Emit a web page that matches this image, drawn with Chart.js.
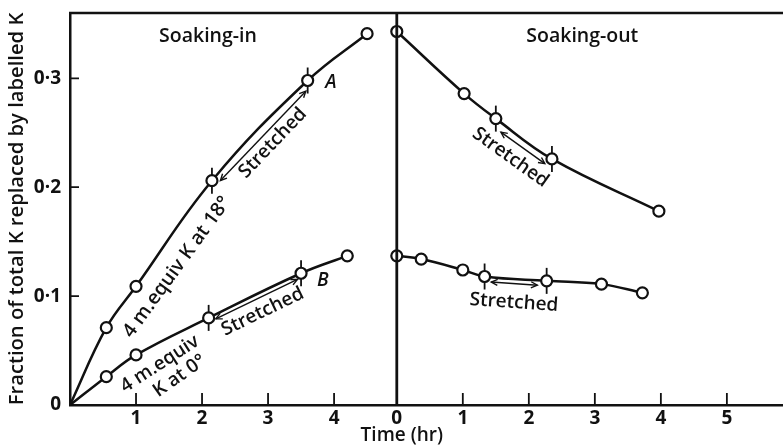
<!DOCTYPE html>
<html>
<head>
<meta charset="utf-8">
<script src="https://cdn.jsdelivr.net/npm/chart.js@4.4.1/dist/chart.umd.min.js"></script>
<style>
  html, body { margin: 0; padding: 0; background: #fff; }
</style>
</head>
<body>
<canvas id="chart" width="783" height="445"></canvas>
<script>
// soaking-in, time (hr) from start of soaking
var inTimeA = [0, 0.55, 1.0, 2.15, 3.6, 4.5];
var inFracA = [0, 0.071, 0.109, 0.206, 0.298, 0.341];
var inTimeB = [0, 0.55, 1.0, 2.1, 3.5, 4.2];
var inFracB = [0, 0.026, 0.046, 0.080, 0.121, 0.137];

// soaking-out, time (hr) from start of soaking-out
var outTimeA = [0, 1.02, 1.5, 2.35, 3.97];
var outFracA = [0.343, 0.286, 0.263, 0.226, 0.178];
var outTimeB = [0, 0.37, 1.0, 1.33, 2.27, 3.1, 3.72];
var outFracB = [0.137, 0.134, 0.124, 0.118, 0.114, 0.111, 0.103];

// which points mark start / end of stretching
var stretchInA = [3, 4];
var stretchInB = [3, 4];
var stretchOutA = [2, 3];
var stretchOutB = [3, 4];

var yTicks = [0, 0.1, 0.2, 0.3];
var inTicks = [1, 2, 3, 4];
var outTicks = [0, 1, 2, 3, 4, 5];

// where soaking-out zero sits on the shared time axis
var OUT_OFFSET = 4.95;

var INK = '#111';
var FONT = '"Open Sans", Lato, sans-serif';

function pts(times, fracs, shift) {
    return times.map(function (t, i) { return { x: t + shift, y: fracs[i] }; });
}

var seriesInA = pts(inTimeA, inFracA, 0);
var seriesInB = pts(inTimeB, inFracB, 0);
var seriesOutA = pts(outTimeA, outFracA, OUT_OFFSET);
var seriesOutB = pts(outTimeB, outFracB, OUT_OFFSET);

function curve(data, hideFirst) {
    return {
        data: data,
        showLine: true,
        borderColor: INK,
        borderWidth: 2.5,
        tension: 0.4,
        pointRadius: function (c) { return (hideFirst && c.dataIndex === 0) ? 0 : 5.5; },
        pointBackgroundColor: '#fff',
        pointBorderColor: INK,
        pointBorderWidth: 2.2,
        order: 1
    };
}

function marks(data, idx) {
    return {
        data: idx.map(function (i) { return data[i]; }),
        showLine: false,
        pointStyle: 'line',
        rotation: 90,
        pointRadius: 13,
        pointBorderColor: INK,
        pointBorderWidth: 1.8,
        order: 2
    };
}

// arrows: series, from index, to index, perpendicular offset, end shrink, text offset
var arrows = [
    { s: seriesInA, a: 3, b: 4, off: 6, s1: 6, s2: 9, toff: 18 },
    { s: seriesInB, a: 3, b: 4, off: 4, s1: 6, s2: 6, toff: 18 },
    { s: seriesOutA, a: 2, b: 3, off: 8, s1: 12, s2: 3, toff: 23 },
    { s: seriesOutB, a: 3, b: 4, off: 5, s1: 7, s2: 9, toff: 24 }
];

// free text, anchored in axis units
var notes = [
    { text: 'Soaking-in', x: 2.09, y: 0.3385, rot: 0, font: '600 19.5px ' + FONT },
    { text: 'Soaking-out', x: 7.76, y: 0.3385, rot: 0, font: '600 19.5px ' + FONT },
    { text: '4 m.equiv K at 18°', x: 1.62, y: 0.1266, rot: -54, font: '600 19.5px ' + FONT },
    { text: '4 m.equiv', x: 1.36, y: 0.0376, rot: -33, font: '600 19px ' + FONT },
    { text: 'K at 0°', x: 1.66, y: 0.0266, rot: -35, font: '600 19px ' + FONT },
    { text: 'A', x: 3.95, y: 0.296, rot: 0, font: 'italic 600 19px ' + FONT },
    { text: 'B', x: 3.83, y: 0.1147, rot: 0, font: 'italic 600 19px ' + FONT }
];

function arrowHead(ctx, x, y, ang) {
    var L = 7, w = 0.45;
    ctx.beginPath();
    ctx.moveTo(x - L * Math.cos(ang - w), y - L * Math.sin(ang - w));
    ctx.lineTo(x, y);
    ctx.lineTo(x - L * Math.cos(ang + w), y - L * Math.sin(ang + w));
    ctx.stroke();
}

function noPad(s) {
    s.paddingLeft = 0;
    s.paddingRight = 0;
    s.paddingTop = 0;
    s.paddingBottom = 0;
}

var decor = {
    id: 'decor',
    afterDatasetsDraw: function (chart) {
        var ctx = chart.ctx;
        var xs = chart.scales.x, ys = chart.scales.y;
        var area = chart.chartArea;
        ctx.save();
        ctx.strokeStyle = INK;
        ctx.fillStyle = INK;

        // divider between the two halves and the top frame
        ctx.lineWidth = 2.8;
        var xd = xs.getPixelForValue(OUT_OFFSET);
        ctx.beginPath();
        ctx.moveTo(xd, area.top);
        ctx.lineTo(xd, area.bottom);
        ctx.stroke();
        ctx.lineWidth = 2.5;
        ctx.beginPath();
        ctx.moveTo(area.left - 1, area.top);
        ctx.lineTo(area.right, area.top);
        ctx.stroke();

        // inward tick marks
        ctx.lineWidth = 1.8;
        ctx.beginPath();
        xs.ticks.forEach(function (t) {
            if (Math.abs(t.value - OUT_OFFSET) < 0.01) return;
            var px = xs.getPixelForValue(t.value);
            ctx.moveTo(px, area.bottom);
            ctx.lineTo(px, area.bottom - 12);
        });
        ys.ticks.forEach(function (t) {
            if (t.value === 0) return;
            var py = ys.getPixelForValue(t.value);
            ctx.moveTo(area.left, py);
            ctx.lineTo(area.left + 9, py);
        });
        ctx.stroke();

        // "Stretched" arrows
        arrows.forEach(function (a) {
            var p = a.s[a.a], q = a.s[a.b];
            var x1 = xs.getPixelForValue(p.x), y1 = ys.getPixelForValue(p.y);
            var x2 = xs.getPixelForValue(q.x), y2 = ys.getPixelForValue(q.y);
            var dx = x2 - x1, dy = y2 - y1, len = Math.hypot(dx, dy);
            var ux = dx / len, uy = dy / len, nx = -uy, ny = ux;
            var sx = x1 + ux * a.s1 + nx * a.off, sy = y1 + uy * a.s1 + ny * a.off;
            var ex = x2 - ux * a.s2 + nx * a.off, ey = y2 - uy * a.s2 + ny * a.off;
            var ang = Math.atan2(dy, dx);
            ctx.lineWidth = 1.4;
            ctx.beginPath();
            ctx.moveTo(sx, sy);
            ctx.lineTo(ex, ey);
            ctx.stroke();
            arrowHead(ctx, ex, ey, ang);
            arrowHead(ctx, sx, sy, ang + Math.PI);

            ctx.save();
            ctx.translate((x1 + x2) / 2 + nx * a.toff, (y1 + y2) / 2 + ny * a.toff);
            ctx.rotate(ang);
            ctx.font = '600 19px ' + FONT;
            ctx.textAlign = 'center';
            ctx.textBaseline = 'middle';
            ctx.fillText('Stretched', 0, 0);
            ctx.restore();
        });

        notes.forEach(function (n) {
            ctx.save();
            ctx.translate(xs.getPixelForValue(n.x), ys.getPixelForValue(n.y));
            ctx.rotate(n.rot * Math.PI / 180);
            ctx.font = n.font;
            ctx.textAlign = 'center';
            ctx.textBaseline = 'middle';
            ctx.fillText(n.text, 0, 0);
            ctx.restore();
        });

        // axis title sits under the soaking-out zero
        ctx.font = '600 19px ' + FONT;
        ctx.textAlign = 'center';
        ctx.textBaseline = 'middle';
        ctx.fillText('Time (hr)', xd + 5, 436);

        ctx.restore();
    }
};

new Chart(document.getElementById('chart'), {
    type: 'scatter',
    data: {
        datasets: [
            curve(seriesInA, true),
            curve(seriesInB, true),
            curve(seriesOutA, false),
            curve(seriesOutB, false),
            marks(seriesInA, stretchInA),
            marks(seriesInB, stretchInB),
            marks(seriesOutA, stretchOutA),
            marks(seriesOutB, stretchOutB)
        ]
    },
    options: {
        responsive: false,
        animation: false,
        devicePixelRatio: 1,
        layout: { autoPadding: false, padding: { top: 13, right: 0, left: 0, bottom: 0 } },
        plugins: { legend: { display: false }, tooltip: { enabled: false } },
        scales: {
            x: {
                type: 'linear',
                min: 0,
                max: 10.8,
                afterBuildTicks: function (s) {
                    s.ticks = inTicks.map(function (v) { return { value: v }; })
                        .concat(outTicks.map(function (v) { return { value: v + OUT_OFFSET }; }));
                },
                afterFit: function (s) { s.height = 40; noPad(s); },
                border: { display: true, color: INK, width: 2.5 },
                grid: { drawOnChartArea: false, drawTicks: false },
                ticks: {
                    color: INK,
                    padding: 2,
                    maxRotation: 0,
                    autoSkip: false,
                    font: { family: FONT, size: 19, weight: 'bold' },
                    callback: function (v) {
                        return v >= OUT_OFFSET - 0.01 ? Math.round(v - OUT_OFFSET) : Math.round(v);
                    }
                }
            },
            y: {
                min: 0,
                max: 0.36,
                afterBuildTicks: function (s) {
                    s.ticks = yTicks.map(function (v) { return { value: v }; });
                },
                afterFit: function (s) { s.width = 70; noPad(s); },
                border: { display: true, color: INK, width: 2.5 },
                grid: { drawOnChartArea: false, drawTicks: false },
                title: {
                    display: true,
                    text: 'Fraction of total K replaced by labelled K',
                    color: INK,
                    font: { family: FONT, size: 20.2, weight: 600 },
                    padding: { top: 5, bottom: 0 }
                },
                ticks: {
                    color: INK,
                    padding: 9,
                    font: { family: FONT, size: 19, weight: 'bold' },
                    callback: function (v) {
                        return v === 0 ? '0' : v.toFixed(1).replace('.', '·');
                    }
                }
            }
        }
    },
    plugins: [decor]
});
</script>
</body>
</html>
